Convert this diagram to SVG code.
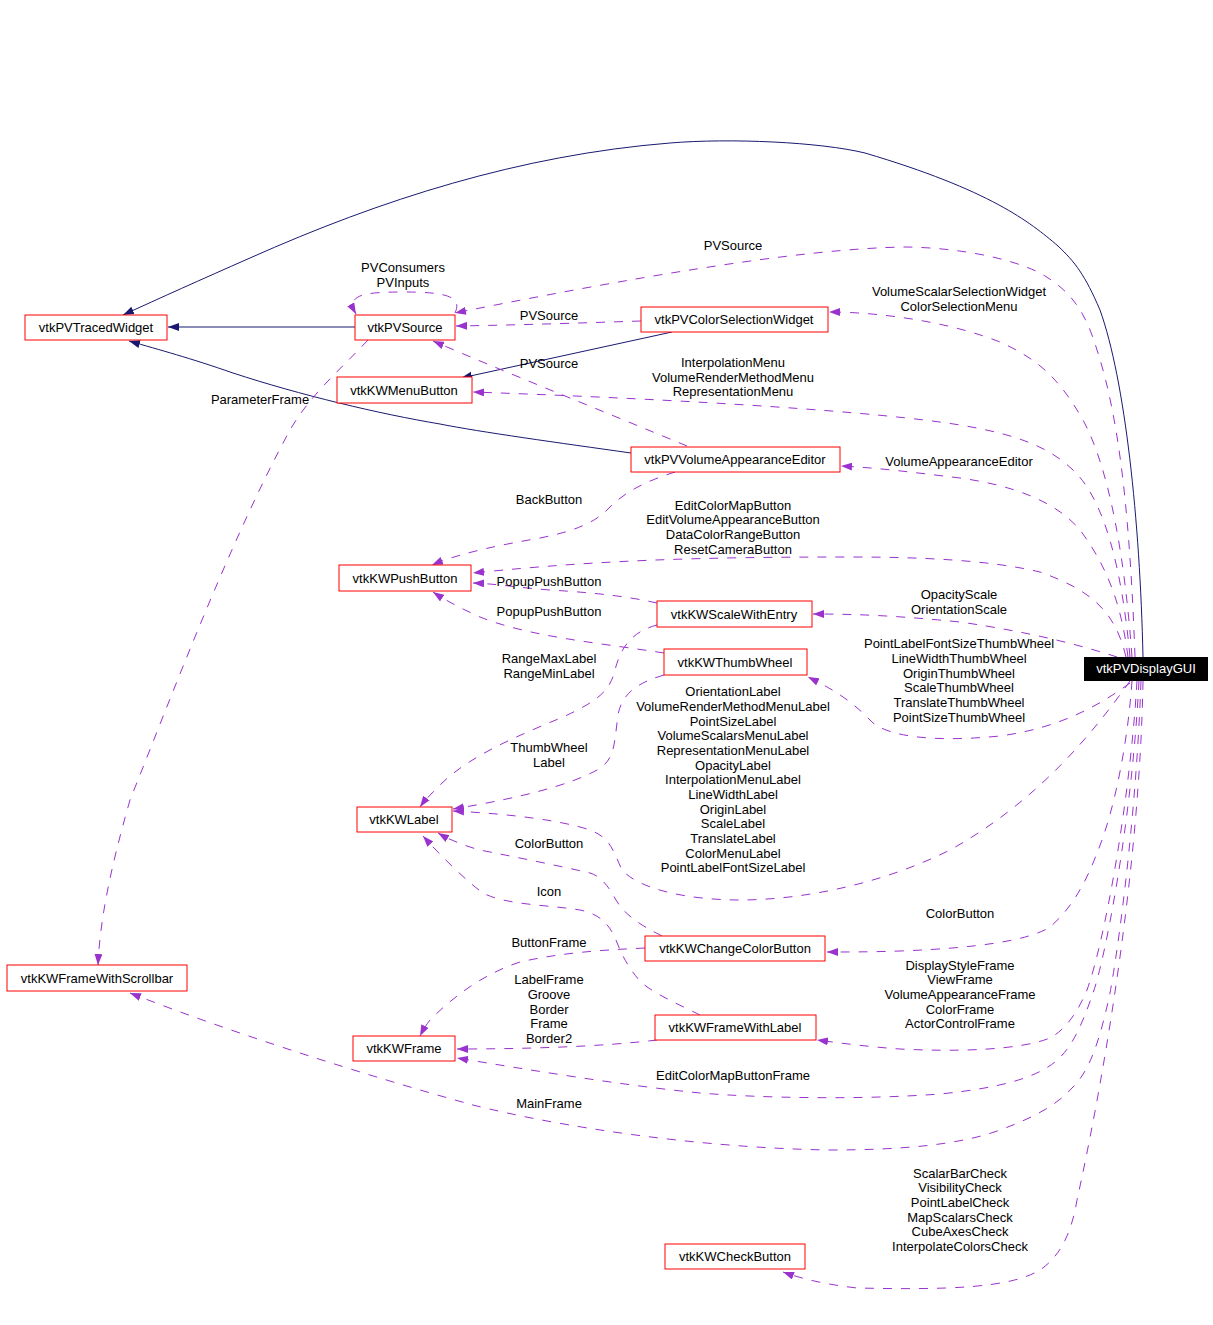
<svg xmlns="http://www.w3.org/2000/svg" width="1213" height="1325" viewBox="0 0 1213 1325">
<style>
text{font-family:"Liberation Sans",Arial,sans-serif;font-size:13px;fill:#000;text-anchor:middle}
.n rect{fill:#fff;stroke:#f00;stroke-width:1}
.inh{fill:none;stroke:#191970;stroke-width:1;marker-end:url(#an)}
.use{fill:none;stroke:#9a32cd;stroke-width:1;stroke-dasharray:9,9;marker-end:url(#ap)}
</style>
<defs>
<marker id="an" viewBox="0 0 11 8" refX="11" refY="4" markerWidth="11" markerHeight="8" markerUnits="userSpaceOnUse" orient="auto"><path d="M0,0L11,4L0,8z" fill="#191970"/></marker>
<marker id="ap" viewBox="0 0 11 8" refX="11" refY="4" markerWidth="11" markerHeight="8" markerUnits="userSpaceOnUse" orient="auto"><path d="M0,0L11,4L0,8z" fill="#9a32cd"/></marker>
</defs>
<rect width="1213" height="1325" fill="#fff"/>
<g id="edges">
<path class="inh" d="M1143,657 C1140,520 1125,380 1100,310 C1085,275 1075,262 1058,246 C1030,222 990,190 865,153 C820,142 730,138 670,143 C520,155 380,200 250,258 C200,280 160,298 123,315"/>
<path class="inh" d="M355,327 L168,327"/>
<path class="inh" d="M672,332 L461,378"/>
<path class="inh" d="M631,453 C560,443 480,432 440,424 C380,414 300,395 233,373 C190,358 160,350 129,341"/>
<path class="use" d="M455,313 C462,298 450,292 405,292 C365,292 345,294 356,314"/>
<path class="use" d="M1135,657 C1130,520 1120,420 1097,350 C1085,310 1070,290 1040,273 C1010,258 960,248 907,247 C800,248 620,280 455,313"/>
<text x="733" y="250">PVSource</text>
<text x="403" y="272">PVConsumers</text>
<text x="403" y="287">PVInputs</text>
<path class="use" d="M641,321 C580,323 520,325 456,326"/>
<text x="549" y="320">PVSource</text>
<path class="use" d="M687,446 C600,410 500,370 433,341"/>
<text x="549" y="368">PVSource</text>
<path class="use" d="M368,340 C340,370 310,395 290,430 C230,540 170,700 130,800 C110,870 100,920 98,965"/>
<text x="260" y="404">ParameterFrame</text>
<path class="use" d="M1132,657 C1125,560 1110,470 1083,420 C1060,380 1040,360 1000,342 C950,322 880,312 829,312"/>
<text x="959" y="296">VolumeScalarSelectionWidget</text>
<text x="959" y="311">ColorSelectionMenu</text>
<path class="use" d="M1130,657 C1122,570 1105,500 1073,470 C1050,448 1020,435 960,425 C880,412 700,400 473,392"/>
<text x="733" y="367">InterpolationMenu</text>
<text x="733" y="382">VolumeRenderMethodMenu</text>
<text x="733" y="396">RepresentationMenu</text>
<path class="use" d="M1128,657 C1122,610 1110,570 1080,530 C1055,500 1010,485 960,478 C910,472 880,468 841,466"/>
<text x="959" y="466">VolumeAppearanceEditor</text>
<path class="use" d="M675,472 C650,480 625,490 605,512 C590,525 570,532 540,538 C500,545 460,553 432,565"/>
<text x="549" y="504">BackButton</text>
<path class="use" d="M1126,657 C1115,610 1090,590 1040,572 C990,560 920,557 850,557 C700,557 600,560 473,573"/>
<text x="733" y="510">EditColorMapButton</text>
<text x="733" y="524">EditVolumeAppearanceButton</text>
<text x="733" y="539">DataColorRangeButton</text>
<text x="733" y="554">ResetCameraButton</text>
<path class="use" d="M657,603 C630,597 600,593 550,590 C520,588 500,584 473,583"/>
<text x="549" y="586">PopupPushButton</text>
<path class="use" d="M664,653 C600,643 530,637 480,617 C460,608 445,600 433,592"/>
<text x="549" y="616">PopupPushButton</text>
<path class="use" d="M1117,657 C1080,645 1030,632 960,622 C900,616 860,614 813,614"/>
<text x="959" y="599">OpacityScale</text>
<text x="959" y="614">OrientationScale</text>
<path class="use" d="M1130,683 C1100,705 1060,728 1000,736 C940,742 890,738 872,722 C858,708 845,695 808,677"/>
<text x="959" y="648">PointLabelFontSizeThumbWheel</text>
<text x="959" y="663">LineWidthThumbWheel</text>
<text x="959" y="678">OriginThumbWheel</text>
<text x="959" y="692">ScaleThumbWheel</text>
<text x="959" y="707">TranslateThumbWheel</text>
<text x="959" y="722">PointSizeThumbWheel</text>
<path class="use" d="M657,625 C630,632 620,650 615,670 C610,690 600,700 563,717 C520,735 470,755 440,785 C432,793 425,800 420,807"/>
<text x="549" y="663">RangeMaxLabel</text>
<text x="549" y="678">RangeMinLabel</text>
<path class="use" d="M664,675 C640,682 622,692 618,715 C614,745 615,760 597,770 C570,785 520,798 453,809"/>
<text x="549" y="752">ThumbWheel</text>
<text x="549" y="767">Label</text>
<path class="use" d="M1130,681 C1095,730 1040,800 950,850 C880,885 800,900 740,900 C690,900 640,890 622,870 C612,848 610,838 590,830 C560,820 510,814 453,811"/>
<text x="733" y="696">OrientationLabel</text>
<text x="733" y="711">VolumeRenderMethodMenuLabel</text>
<text x="733" y="726">PointSizeLabel</text>
<text x="733" y="740">VolumeScalarsMenuLabel</text>
<text x="733" y="755">RepresentationMenuLabel</text>
<text x="733" y="770">OpacityLabel</text>
<text x="733" y="784">InterpolationMenuLabel</text>
<text x="733" y="799">LineWidthLabel</text>
<text x="733" y="814">OriginLabel</text>
<text x="733" y="828">ScaleLabel</text>
<text x="733" y="843">TranslateLabel</text>
<text x="733" y="858">ColorMenuLabel</text>
<text x="733" y="872">PointLabelFontSizeLabel</text>
<path class="use" d="M662,936 C640,925 625,915 616,900 C608,885 600,876 590,873 C560,866 520,858 480,850 C465,846 450,840 438,833"/>
<text x="549" y="848">ColorButton</text>
<path class="use" d="M700,1015 C680,1005 650,992 639,980 C628,967 622,955 618,945 C612,930 605,915 580,910 C550,905 505,905 483,893 C465,880 440,855 423,836"/>
<text x="549" y="896">Icon</text>
<path class="use" d="M1132,681 C1128,740 1115,810 1097,853 C1085,885 1070,910 1050,927 C1030,940 980,948 900,951 C870,952 850,952 827,952"/>
<text x="960" y="918">ColorButton</text>
<path class="use" d="M645,948 C600,950 560,953 520,962 C480,975 450,1000 430,1020 C426,1025 423,1030 420,1036"/>
<text x="549" y="947">ButtonFrame</text>
<path class="use" d="M1137,681 C1130,800 1105,940 1087,990 C1078,1012 1065,1030 1050,1038 C1020,1050 960,1052 900,1049 C870,1047 840,1043 817,1040"/>
<text x="960" y="970">DisplayStyleFrame</text>
<text x="960" y="984">ViewFrame</text>
<text x="960" y="999">VolumeAppearanceFrame</text>
<text x="960" y="1014">ColorFrame</text>
<text x="960" y="1028">ActorControlFrame</text>
<path class="use" d="M657,1040 C600,1047 520,1049 457,1049"/>
<text x="549" y="984">LabelFrame</text>
<text x="549" y="999">Groove</text>
<text x="549" y="1014">Border</text>
<text x="549" y="1028">Frame</text>
<text x="549" y="1043">Border2</text>
<path class="use" d="M1139,681 C1132,820 1105,960 1093,993 C1082,1025 1072,1048 1055,1062 C1035,1078 1000,1088 940,1094 C860,1100 760,1098 700,1093 C620,1085 530,1070 457,1058"/>
<text x="733" y="1080">EditColorMapButtonFrame</text>
<path class="use" d="M1141,681 C1136,820 1118,950 1110,993 C1100,1040 1090,1070 1073,1087 C1057,1105 1035,1117 1000,1130 C960,1145 900,1150 830,1150 C700,1148 560,1127 473,1105 C400,1085 250,1040 130,993"/>
<text x="549" y="1108">MainFrame</text>
<path class="use" d="M1143,681 C1140,850 1110,1050 1077,1200 C1072,1230 1062,1255 1040,1270 C1010,1288 950,1290 857,1288 C830,1285 805,1280 783,1272"/>
<text x="960" y="1178">ScalarBarCheck</text>
<text x="960" y="1192">VisibilityCheck</text>
<text x="960" y="1207">PointLabelCheck</text>
<text x="960" y="1222">MapScalarsCheck</text>
<text x="960" y="1236">CubeAxesCheck</text>
<text x="960" y="1251">InterpolateColorsCheck</text>
</g>
<g id="vtkPVTracedWidget" class="n"><rect x="25" y="315" width="142" height="25"/><text x="96" y="332">vtkPVTracedWidget</text></g>
<g id="vtkPVSource" class="n"><rect x="355" y="315" width="100" height="25"/><text x="405" y="332">vtkPVSource</text></g>
<g id="vtkKWMenuButton" class="n"><rect x="337" y="377" width="135" height="26"/><text x="404" y="395">vtkKWMenuButton</text></g>
<g id="vtkPVColorSelectionWidget" class="n"><rect x="641" y="307" width="187" height="25"/><text x="734" y="324">vtkPVColorSelectionWidget</text></g>
<g id="vtkPVVolumeAppearanceEditor" class="n"><rect x="631" y="447" width="209" height="25"/><text x="735" y="464">vtkPVVolumeAppearanceEditor</text></g>
<g id="vtkKWPushButton" class="n"><rect x="339" y="565" width="132" height="26"/><text x="405" y="583">vtkKWPushButton</text></g>
<g id="vtkKWScaleWithEntry" class="n"><rect x="657" y="601" width="155" height="26"/><text x="734" y="619">vtkKWScaleWithEntry</text></g>
<g id="vtkKWThumbWheel" class="n"><rect x="664" y="649" width="143" height="26"/><text x="735" y="667">vtkKWThumbWheel</text></g>
<g id="vtkKWLabel" class="n"><rect x="357" y="807" width="95" height="25"/><text x="404" y="824">vtkKWLabel</text></g>
<g id="vtkKWFrameWithScrollbar" class="n"><rect x="7" y="965" width="180" height="26"/><text x="97" y="983">vtkKWFrameWithScrollbar</text></g>
<g id="vtkKWFrame" class="n"><rect x="353" y="1036" width="102" height="25"/><text x="404" y="1053">vtkKWFrame</text></g>
<g id="vtkKWChangeColorButton" class="n"><rect x="645" y="936" width="180" height="25"/><text x="735" y="953">vtkKWChangeColorButton</text></g>
<g id="vtkKWFrameWithLabel" class="n"><rect x="655" y="1015" width="161" height="25"/><text x="735" y="1032">vtkKWFrameWithLabel</text></g>
<g id="vtkKWCheckButton" class="n"><rect x="665" y="1244" width="140" height="25"/><text x="735" y="1261">vtkKWCheckButton</text></g>
<g id="vtkPVDisplayGUI"><rect x="1084" y="657" width="124" height="24" fill="#000"/><text x="1146" y="673" style="fill:#fff">vtkPVDisplayGUI</text></g>
</svg>
